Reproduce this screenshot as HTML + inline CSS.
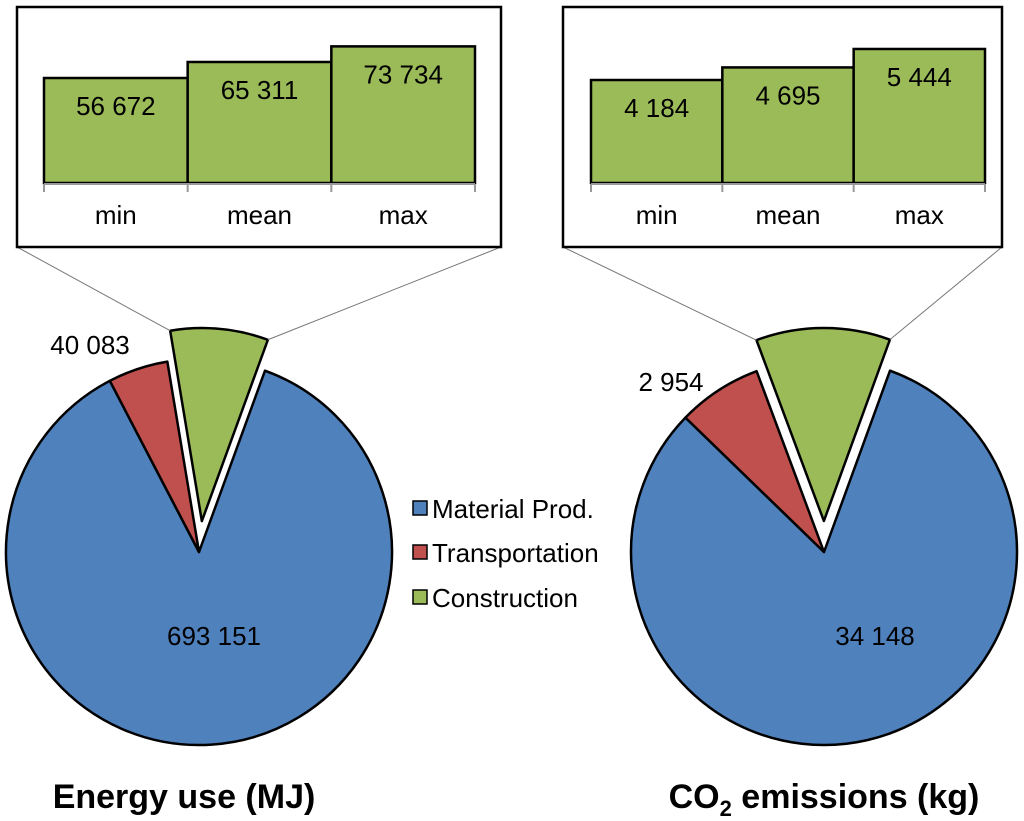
<!DOCTYPE html>
<html><head><meta charset="utf-8"><style>
html,body{margin:0;padding:0;background:#fff;}
svg{display:block;font-family:"Liberation Sans",Arial,sans-serif;}
</style></head><body>
<svg id="c" width="1024" height="821" viewBox="0 0 1024 821" xmlns="http://www.w3.org/2000/svg">
<g id="g"></g>
<g>
<rect x="413" y="501" width="14" height="14" fill="#4F81BD" stroke="#000" stroke-width="1.5"/>
<text x="432" y="518" font-size="26">Material Prod.</text>
<rect x="413" y="545" width="14" height="14" fill="#C0504D" stroke="#000" stroke-width="1.5"/>
<text x="432" y="562" font-size="26">Transportation</text>
<rect x="413" y="590" width="14" height="14" fill="#9BBB59" stroke="#000" stroke-width="1.5"/>
<text x="432" y="607" font-size="26">Construction</text>
</g>
<text x="184" y="808" font-size="34" font-weight="bold" text-anchor="middle">Energy use (MJ)</text>
<text x="824" y="808" font-size="34" font-weight="bold" text-anchor="middle">CO<tspan font-size="22" dy="8">2</tspan><tspan dy="-8"> emissions (kg)</tspan></text>
</svg>
<script>
const pieCategories = ["Material Prod.", "Transportation", "Construction"];
const energyPieValues = [693151, 40083, 65311];
const co2PieValues = [34148, 2954, 4695];
const barCategories = ["min", "mean", "max"];
const energyBarValues = [56672, 65311, 73734];
const co2BarValues = [4184, 4695, 5444];
const energyPieLabels = ["693 151", "40 083"];
const co2PieLabels = ["34 148", "2 954"];
const energyBarLabels = ["56 672", "65 311", "73 734"];
const co2BarLabels = ["4 184", "4 695", "5 444"];

const NS = "http://www.w3.org/2000/svg";
const G = document.getElementById("g");
function el(t, a, p) { const e = document.createElementNS(NS, t); for (const k in a) e.setAttribute(k, a[k]); (p || G).appendChild(e); return e; }
const colors = ["#4F81BD", "#C0504D", "#9BBB59"];

function pt(cx, cy, r, deg) { const a = deg * Math.PI / 180; return [cx + r * Math.sin(a), cy - r * Math.cos(a)]; }

function drawPie(name, cx, cy, r, vals, labels, explode, labelPos) {
  const total = vals.reduce((a, b) => a + b, 0);
  let start = 20;
  const geo = [];
  vals.forEach((v, i) => {
    const sweep = v / total * 360;
    const end = start + sweep;
    let ox = 0, oy = 0;
    if (i === 2) { const m = pt(0, 0, explode, start + sweep / 2); ox = m[0]; oy = m[1]; }
    const c = [cx + ox, cy + oy];
    const p1 = pt(c[0], c[1], r, start), p2 = pt(c[0], c[1], r, end);
    const large = sweep > 180 ? 1 : 0;
    const path = el("path", { d: `M${c[0]},${c[1]} L${p1[0]},${p1[1]} A${r},${r} 0 ${large} 1 ${p2[0]},${p2[1]} Z`, fill: colors[i], stroke: "#000", "stroke-width": 2.5, "stroke-linejoin": "round" });
    
    
    geo.push({ p1, p2, start, end });
    start = end;
  });
  labels.forEach((lab, i) => {
    const t = el("text", { x: labelPos[i][0], y: labelPos[i][1], "font-size": 26, "text-anchor": "middle" });
    t.textContent = lab;
    
    
  });
  return geo[2];
}

function drawBars(name, x0, x1, base, scale, box, vals, labels) {
  const b = el("rect", { x: box[0], y: box[1], width: box[2], height: box[3], fill: "#fff", stroke: "#000", "stroke-width": 2.5 });
  
  
  const w = (x1 - x0) / vals.length;
  vals.forEach((v, i) => {
    const h = v * scale;
    const r = el("rect", { x: x0 + i * w, y: base - h, width: w, height: h, fill: "#9BBB59", stroke: "#000", "stroke-width": 2.5 });
    
    
    const t = el("text", { x: x0 + (i + 0.5) * w, y: base - h + 37, "font-size": 26, "text-anchor": "middle" });
    t.textContent = labels[i];
    
    
    const c = el("text", { x: x0 + (i + 0.5) * w, y: base + 41, "font-size": 26, "text-anchor": "middle" });
    c.textContent = barCategories[i];
    
    
  });
  const ax = el("path", { d: `M${x0},${base + 1} H${x1}` + [0, 1, 2, 3].map(i => ` M${x0 + i * w},${base + 1} V${base + 9}`).join(""), stroke: "#999", "stroke-width": 2, fill: "none" });
  
  
}

const eg = drawPie("energy", 199, 552, 193, energyPieValues, energyPieLabels, 31, [[214, 645], [90, 354]]);
const cg = drawPie("co2", 824, 552, 193, co2PieValues, co2PieLabels, 31, [[875, 645], [671, 391]]);
[[17, 247, eg.p1], [501, 247, eg.p2], [563, 247, cg.p1], [1002, 247, cg.p2]].forEach((l, i) => {
  const ln = el("line", { x1: l[0], y1: l[1], x2: l[2][0], y2: l[2][1], stroke: "#777", "stroke-width": 1 });
  
  
});
drawBars("energy", 44, 475, 183, 105 / 56672, [17, 7, 484, 240], energyBarValues, energyBarLabels);
drawBars("co2", 591, 985, 183, 103 / 4184, [563, 7, 439, 240], co2BarValues, co2BarLabels);
</script>
</body></html>
